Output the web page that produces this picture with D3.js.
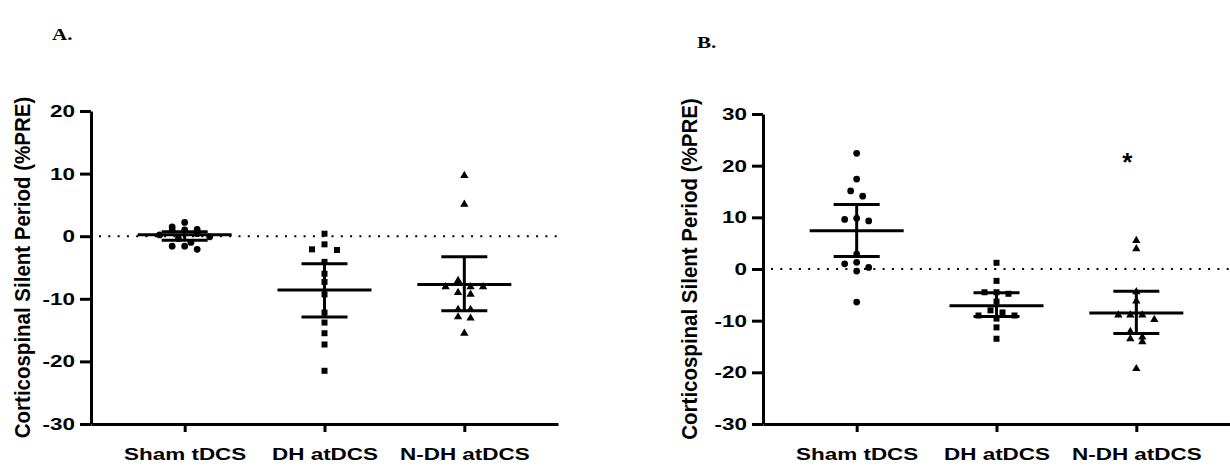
<!DOCTYPE html>
<html>
<head>
<meta charset="utf-8">
<script src="https://cdn.jsdelivr.net/npm/d3@7"></script>
<style>
  body { margin: 0; background: #fff; }
  svg { display: block; }
  .axis path, .axis line { stroke: #000; stroke-width: 3px; }
  .axis text { font-family: "Liberation Sans", Arial, sans-serif; font-weight: bold; font-size: 17px; fill: #000; }
  .ytitle { font-family: "Liberation Sans", Arial, sans-serif; font-weight: bold; font-size: 20.5px; }
  .panel { font-family: "Liberation Serif", "Times New Roman", serif; font-weight: bold; font-size: 16px; }
</style>
</head>
<body>
<svg width="1230" height="468"></svg>
<script>
var categories = ["Sham tDCS", "DH atDCS", "N-DH atDCS"];

// panel A
var ticksA = [20, 10, 0, -10, -20, -30];
var shamA = [2.2, 1.5, 1.1, 1.0, 1.0, 0.4, 0.2, -0.1, -0.4, -1.0, -1.6, -1.6, -2.1];
var dhA = [0.4, -1.3, -2.1, -2.2, -4.1, -6.0, -7.3, -9.3, -12.2, -13.8, -15.5, -17.3, -21.5];
var ndhA = [9.7, 5.1, -7.1, -8.1, -8.1, -8.1, -9.0, -9.3, -11.7, -11.7, -12.9, -13.1, -15.5];
var meanA = [0.25, -8.6, -7.7];
var lowA = [-0.65, -12.9, -11.9];
var highA = [0.7, -4.4, -3.3];

// panel B
var ticksB = [30, 20, 10, 0, -10, -20, -30];
var shamB = [22.4, 17.4, 15.1, 14.1, 9.8, 9.6, 9.3, 2.9, 1.3, 1.0, 0.3, -0.4, -6.4];
var dhB = [1.2, -2.3, -4.5, -4.5, -4.8, -6.3, -8.0, -8.4, -9.0, -9.0, -9.6, -11.3, -13.5];
var ndhB = [5.5, 3.9, -4.4, -6.2, -8.9, -8.9, -8.9, -9.8, -12.1, -13.2, -13.5, -14.1, -19.3];
var meanB = [7.4, -7.1, -8.5];
var lowB = [2.4, -9.2, -12.5];
var highB = [12.5, -4.6, -4.3];

var svg = d3.select("svg");
var wide = 1.32; // the original figure is stretched sideways

// widen glyphs of horizontal text
function stretch(sel) {
  sel.each(function() {
    var w = this.getComputedTextLength();
    d3.select(this).attr("textLength", w * wide).attr("lengthAdjust", "spacingAndGlyphs");
  });
}

// spread points that sit close together into rows, like a scatter dot plot
function swarm(vals, y, step, gap) {
  var pts = vals.map(function(v) { return {v: v, py: y(v)}; })
    .sort(function(a, b) { return a.py - b.py; });
  var rows = [], cur = null;
  pts.forEach(function(p) {
    if (cur && p.py - cur[0].py < gap) cur.push(p);
    else { cur = [p]; rows.push(cur); }
  });
  rows.forEach(function(row) {
    var n = row.length;
    var offs = d3.range(n).map(function(i) { return (i - (n - 1) / 2) * step; })
      .sort(function(a, b) { return Math.abs(a) - Math.abs(b) || a - b; });
    row.forEach(function(p, i) { p.dx = offs[i]; });
  });
  return pts;
}

function panel(opt) {
  var y = d3.scaleLinear().domain(opt.domain).range([424, opt.top]);
  var x = d3.scalePoint().domain(categories).range([opt.x0, opt.x1]).padding(0.67);
  var g = svg.append("g");

  g.append("g")
      .attr("class", "axis")
      .attr("transform", "translate(" + opt.x0 + ",0)")
      .call(d3.axisLeft(y).tickValues(opt.ticks).tickFormat(function(d) { return String(d); })
        .tickSize(11).tickSizeOuter(0).tickPadding(5))
      .selectAll("text").call(stretch);

  g.append("g")
      .attr("class", "axis")
      .attr("transform", "translate(0,424)")
      .call(d3.axisBottom(x).tickSize(8).tickSizeOuter(0).tickPadding(16))
      .selectAll("text").call(stretch);

  // dotted zero line
  g.append("line")
      .attr("x1", opt.x0 + 8).attr("x2", opt.x1)
      .attr("y1", y(0)).attr("y2", y(0))
      .style("stroke", "#000")
      .style("stroke-width", 2)
      .style("stroke-dasharray", "2,7.3");

  g.append("text")
      .attr("class", "ytitle")
      .attr("transform", "translate(" + opt.titleX + "," + (y.range()[0] + y.range()[1]) / 2 + ") rotate(-90) scale(1,1.1)")
      .attr("text-anchor", "middle")
      .attr("dy", "0.35em")
      .text("Corticospinal Silent Period (%PRE)");

  g.append("text")
      .attr("class", "panel")
      .attr("x", opt.labelX).attr("y", opt.labelY)
      .text(opt.label)
      .call(stretch);

  var shapes = [d3.symbolCircle, d3.symbolSquare, d3.symbolTriangle];
  var sizes = [36, 36, 30];
  opt.series.forEach(function(vals, i) {
    var cx = x(categories[i]);
    var pts = swarm(vals, y, opt.step, 7);
    g.selectAll(".pt" + i)
      .data(pts)
      .enter().append("path")
        .attr("class", "pt" + i)
        .attr("d", d3.symbol().type(shapes[i]).size(sizes[i]))
        .attr("transform", function(d) { return "translate(" + (cx + d.dx) + "," + d.py + ")"; })
        .style("fill", "#000");

    // mean and error bars
    var eb = g.append("g").style("stroke", "#000").style("stroke-width", 3);
    eb.append("line").attr("x1", cx).attr("x2", cx).attr("y1", y(opt.low[i])).attr("y2", y(opt.high[i]));
    eb.append("line").attr("x1", cx - 47).attr("x2", cx + 47).attr("y1", y(opt.mean[i])).attr("y2", y(opt.mean[i]));
    eb.append("line").attr("x1", cx - 23).attr("x2", cx + 23).attr("y1", y(opt.low[i])).attr("y2", y(opt.low[i]));
    eb.append("line").attr("x1", cx - 23).attr("x2", cx + 23).attr("y1", y(opt.high[i])).attr("y2", y(opt.high[i]));
  });

  return {x: x, y: y, g: g};
}

panel({
  domain: [-30, 20], top: 111, ticks: ticksA, x0: 91, x1: 558,
  titleX: 22, label: "A.", labelX: 52, labelY: 40, step: 12.5,
  series: [shamA, dhA, ndhA], mean: meanA, low: lowA, high: highA
});

var pB = panel({
  domain: [-30, 30], top: 114, ticks: ticksB, x0: 763, x1: 1230,
  titleX: 689, label: "B.", labelX: 697, labelY: 48, step: 12,
  series: [shamB, dhB, ndhB], mean: meanB, low: lowB, high: highB
});

// significance marker
pB.g.append("text")
    .attr("x", pB.x("N-DH atDCS") - 9)
    .attr("y", pB.y(19))
    .attr("text-anchor", "middle")
    .style("font-family", "Liberation Sans, Arial, sans-serif")
    .style("font-weight", "bold")
    .style("font-size", "26px")
    .text("*");
</script>
</body>
</html>
